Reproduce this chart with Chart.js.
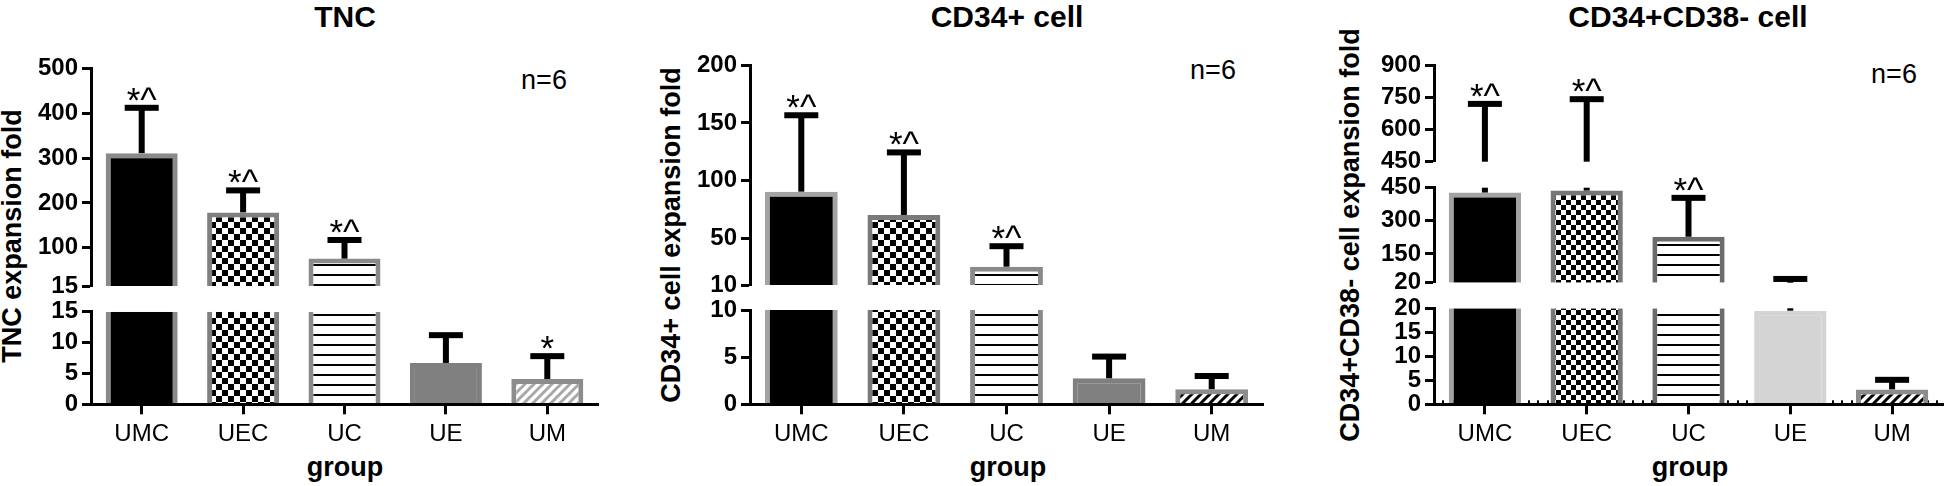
<!DOCTYPE html>
<html><head><meta charset="utf-8">
<script src="https://cdn.jsdelivr.net/npm/chart.js@4.4.1/dist/chart.umd.min.js"></script>
<style>
html,body{margin:0;padding:0;background:#fff;}
body{width:1946px;height:486px;position:relative;overflow:hidden;font-family:"Liberation Sans",Arial,sans-serif;color:#000;}
canvas{position:absolute;top:0;}
.t{position:absolute;white-space:nowrap;line-height:1;transform:translate(-50%,-50%);}
.title{font-weight:bold;font-size:30px;}
.ytitle{font-weight:bold;font-size:27px;transform:translate(-50%,-50%) rotate(-90deg);}
.n{font-size:27px;}
.g{font-weight:bold;font-size:27px;}
</style></head><body>
<div class="t title" style="left:345px;top:17px">TNC</div>
<div class="t title" style="left:1007px;top:17px">CD34+ cell</div>
<div class="t title" style="left:1688px;top:17px">CD34+CD38- cell</div>
<div class="t ytitle" style="left:12px;top:236px">TNC expansion fold</div>
<div class="t ytitle" style="left:671px;top:235px">CD34+ cell expansion fold</div>
<div class="t ytitle" style="left:1350px;top:235px">CD34+CD38- cell expansion fold</div>
<div class="t n" style="left:544px;top:80px">n=6</div>
<div class="t n" style="left:1213px;top:70px">n=6</div>
<div class="t n" style="left:1894px;top:74px">n=6</div>
<div class="t g" style="left:345px;top:467px">group</div>
<div class="t g" style="left:1008px;top:467px">group</div>
<div class="t g" style="left:1690px;top:467px">group</div>
<script>
// ---------------- data ----------------
const categories = ['UMC', 'UEC', 'UC', 'UE', 'UM'];

const tncMean  = [311, 179, 76, 6.7, 4.1];
const tncSD    = [101, 49, 41.5, 4.5, 3.7];
const tncMarks = ['*^', '*^', '*^', '', '*'];

const cd34Mean  = [90.6, 70.5, 25.8, 2.76, 1.6];
const cd34SD    = [66, 54, 17.7, 2.3, 1.4];
const cd34Marks = ['*^', '*^', '*^', '', ''];

const cd38Mean  = [428, 437, 228, 19.5, 3.1];
const cd38SD    = [291, 304, 176, 17.5, 2.0];
const cd38Marks = ['*^', '*^', '*^', '', ''];

const tncTicksTop     = [15, 100, 200, 300, 400, 500];
const tncTicksBottom  = [0, 5, 10, 15];
const cd34TicksTop    = [10, 50, 100, 150, 200];
const cd34TicksBottom = [0, 5, 10];
const cd38TicksTop    = [450, 600, 750, 900];
const cd38TicksMid    = [20, 150, 300, 450];
const cd38TicksBottom = [0, 5, 10, 15, 20];

// ---------------- styles ----------------
const FONT = '"Liberation Sans", Arial, sans-serif';
Chart.defaults.font.family = FONT;
Chart.defaults.color = '#000';

const pctx = document.createElement('canvas').getContext('2d');
function tile(w, h, draw) {
  const c = document.createElement('canvas'); c.width = w; c.height = h;
  const g = c.getContext('2d'); g.fillStyle = '#fff'; g.fillRect(0, 0, w, h); draw(g);
  return pctx.createPattern(c, 'repeat');
}
function checker(s) { return tile(2 * s, 2 * s, g => { g.fillStyle = '#000'; g.fillRect(0, 0, s, s); g.fillRect(s, s, s, s); }); }
const hLines = tile(10, 10, g => { g.fillStyle = '#000'; g.fillRect(0, 4, 10, 2); });
function hatch(color, s) {
  return tile(s, s, g => {
    g.strokeStyle = color; g.lineWidth = 3; g.beginPath();
    g.moveTo(-2, s + 2); g.lineTo(s + 2, -2);
    g.moveTo(-2, 2); g.lineTo(2, -2);
    g.moveTo(s - 2, s + 2); g.lineTo(s + 2, s - 2);
    g.stroke();
  });
}

const panels = [
  { x: 0, w: 650, l: 91, r: 598, means: tncMean, sds: tncSD, marks: tncMarks,
    fills: ['#000', checker(6), hLines, '#808080', hatch('#a8a8a8', 9)],
    borders: ['#8a8a8a', '#808080', '#8a8a8a', '#808080', '#8c8c8c'],
    segs: [ { t: 68.3, b: 286, min: 15, max: 500, ticks: tncTicksTop },
            { t: 311.7, b: 404.3, min: 0, max: 15, ticks: tncTicksBottom, showX: true } ] },
  { x: 650, w: 646, l: 100, r: 613, means: cd34Mean, sds: cd34SD, marks: cd34Marks,
    fills: ['#000', checker(6), hLines, '#808080', hatch('#000', 9)],
    borders: ['#a3a3a3', '#7a7a7a', '#8a8a8a', '#808080', '#8c8c8c'],
    segs: [ { t: 65, b: 285, min: 10, max: 200, ticks: cd34TicksTop },
            { t: 310, b: 404.3, min: 0, max: 10, ticks: cd34TicksBottom, showX: true } ] },
  { x: 1296, w: 650, l: 138, r: 647, means: cd38Mean, sds: cd38SD, marks: cd38Marks, minor: true,
    fills: ['#000', checker(5), hLines, '#d4d4d4', hatch('#000', 9)],
    borders: ['#a3a3a3', '#767676', '#6c6c6c', '#d4d4d4', '#8c8c8c'],
    segs: [ { t: 65, b: 161.7, min: 450, max: 900, ticks: cd38TicksTop },
            { t: 187.7, b: 282.7, min: 20, max: 450, ticks: cd38TicksMid },
            { t: 308.3, b: 404.3, min: 0, max: 20, ticks: cd38TicksBottom, showX: true } ] }
];

function makeSegment(p, s) {
  const cv = document.createElement('canvas');
  cv.width = p.w; cv.height = 486;
  cv.style.left = p.x + 'px'; cv.style.width = p.w + 'px'; cv.style.height = '486px';
  document.body.appendChild(cv);
  const YW = 60;
  const XH = s.showX ? 486 - s.b : 0;
  const pad = { left: p.l - YW, right: p.w - p.r, top: s.t, bottom: s.showX ? 0 : 486 - s.b };
  const barData = p.means.map(m => m > s.min ? [s.min, Math.min(m, s.max)] : null);
  const bw = p.means.map(m => ({ left: 5, right: 5, top: m > s.max ? 0 : 5, bottom: 0 }));

  const errPlugin = {
    id: 'errbars',
    beforeDatasetsDraw(chart) {
      if (!(p.minor && s.showX)) return;
      const c = chart.ctx, a = chart.chartArea;
      c.save(); c.fillStyle = '#000';
      for (let x = a.left + 8; x < a.right; x += 9.5) c.fillRect(Math.round(x), a.bottom - 4, 2, 3);
      c.restore();
    },
    afterDatasetsDraw(chart) {
      const c = chart.ctx, xs = chart.scales.x, ys = chart.scales.y;
      c.save(); c.fillStyle = '#000';
      p.means.forEach((m, i) => {
        const u = m + p.sds[i];
        const x = xs.getPixelForValue(i);
        const lo = Math.max(m, s.min), hi = Math.min(u, s.max);
        if (hi > lo) {
          const y1 = ys.getPixelForValue(hi), y2 = ys.getPixelForValue(lo);
          c.fillRect(x - 3, y1, 6, y2 - y1);
        }
        if (u >= s.min && u <= s.max) {
          const yu = ys.getPixelForValue(u);
          c.fillRect(x - 17, yu - 3, 34, 6);
          const note = p.marks[i];
          if (note) {
            c.font = '35px ' + FONT; c.textAlign = 'center'; c.textBaseline = 'alphabetic';
            const d = c.measureText(note).actualBoundingBoxDescent;
            c.fillText(note, x, yu - 3 - 4 - d);
          }
        }
      });
      c.restore();
    }
  };

  new Chart(cv, {
    type: 'bar',
    data: { labels: categories, datasets: [{
      data: barData, backgroundColor: p.fills, borderColor: p.borders,
      borderWidth: bw, borderSkipped: false, barPercentage: 0.71, categoryPercentage: 1
    }] },
    options: {
      responsive: false, animation: false, devicePixelRatio: 1,
      layout: { padding: pad },
      plugins: { legend: { display: false }, tooltip: { enabled: false }, title: { display: false } },
      scales: {
        x: {
          display: !!s.showX, offset: true,
          grid: { display: true, offset: false, drawOnChartArea: false, drawTicks: true, tickLength: 10, tickWidth: 3, tickColor: '#000' },
          border: { display: true, width: 3, color: '#000', z: 1 },
          ticks: { color: '#000', font: { size: 24 }, padding: 6, maxRotation: 0, autoSkip: false },
          afterFit: sc => { sc.height = XH; sc.paddingLeft = 0; sc.paddingRight = 0; }
        },
        y: {
          min: s.min, max: s.max,
          afterBuildTicks: sc => { sc.ticks = s.ticks.map(v => ({ value: v })); },
          grid: { display: true, drawOnChartArea: false, drawTicks: true, tickLength: 9, tickWidth: 3, tickColor: '#000' },
          border: { display: true, width: 3, color: '#000', z: 1 },
          ticks: { color: '#000', font: { size: 24, weight: 'bold' }, padding: 4, autoSkip: false, callback: v => String(v) },
          afterFit: sc => { sc.width = YW; sc.paddingTop = 0; sc.paddingBottom = 0; }
        }
      }
    },
    plugins: [errPlugin]
  });
}

panels.forEach(p => p.segs.forEach(s => makeSegment(p, s)));
</script>
</body></html>
